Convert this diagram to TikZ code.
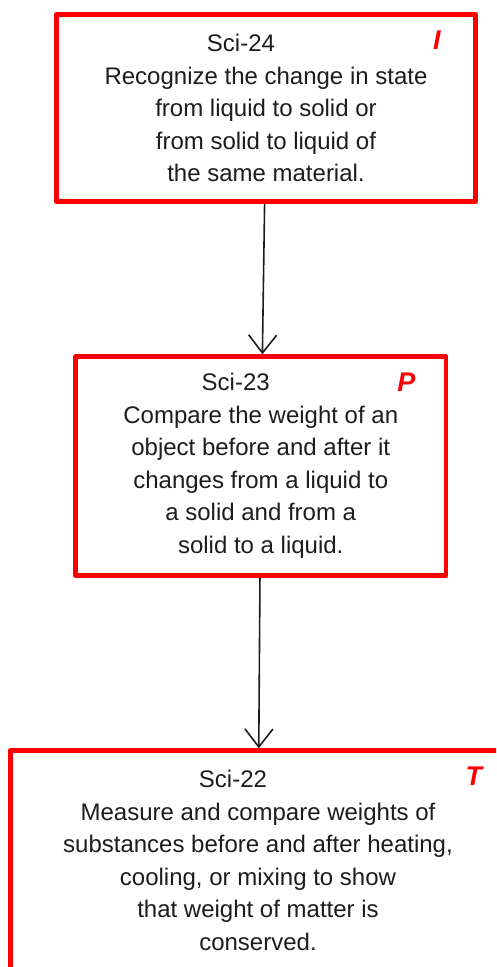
\documentclass[tikz,border=0pt]{standalone}
\usepackage{fontspec}
\setmainfont{Liberation Sans}
\usetikzlibrary{arrows.meta}
\definecolor{boxred}{RGB}{255,0,0}
\definecolor{txtgray}{RGB}{28,28,28}
\begin{document}
\begin{tikzpicture}[x=1pt,y=1pt,line join=round,
	sci/.style={draw=boxred,line width=4.5pt,rectangle,align=center,inner sep=0pt,text=txtgray,font=\fontsize{24}{32.5}\selectfont},
	lvl/.style={text=boxred,font=\fontsize{27}{28}\selectfont\bfseries\itshape},
	link/.style={-{Straight Barb[length=18pt,width=28pt]},line width=1.6pt,txtgray}]
	\useasboundingbox (0,0) rectangle (496,-967);
	\clip (0,0) rectangle (496,-967);
	\node[sci,minimum width=419pt,minimum height=187pt] (sci24) at (266,-108)
	{Sci-24\hspace*{50pt}\\Recognize the change in state\\from liquid to solid or\\from solid to liquid of\\the same material.};
	\node[sci,minimum width=370.5pt,minimum height=219pt] (sci23) at (260.75,-466)
	{Sci-23\hspace*{50pt}\\Compare the weight of an\\object before and after it\\changes from a liquid to\\a solid and from a\\solid to a liquid.};
	\node[sci,minimum width=495pt,minimum height=219.5pt] (sci22) at (258,-860.25)
	{Sci-22\hspace*{50pt}\\Measure and compare weights of\\substances before and after heating,\\cooling, or mixing to show\\that weight of matter is\\conserved.};
	\draw[link] (sci24) -- (sci23);
	\draw[link] (sci23) -- (sci22);
	\foreach \n/\l/\dx in {sci24/I/-41,sci23/P/-42,sci22/T/-34}
	\node[lvl] at ([shift={(\dx pt,-28pt)}]\n.north east) {\l};
\end{tikzpicture}
\end{document}
